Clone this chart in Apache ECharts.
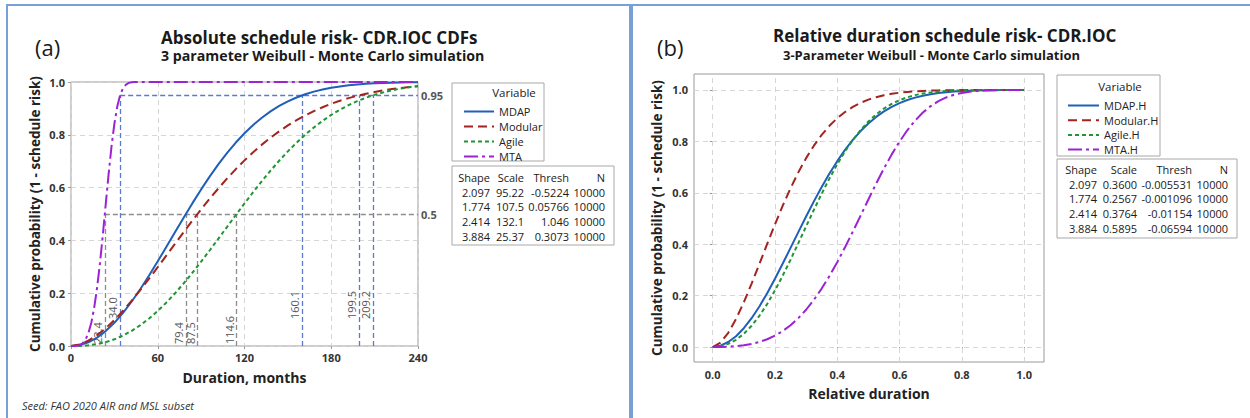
<!DOCTYPE html>
<html><head><meta charset="utf-8">
<script src="https://cdn.jsdelivr.net/npm/echarts@6/dist/echarts.min.js"></script>
<style>html,body{margin:0;padding:0;background:#fff}#c{width:1250px;height:418px}</style>
</head><body><div id="c"></div>
<script>
// ---------- DATA ----------
const months = [0,6,12,18,24,30,36,42,48,54,60,66,72,78,84,90,96,102,108,114,120,126,132,138,144,150,156,162,168,174,180,186,192,198,204,210,216,222,228,234,240];
const mdap = [0,0.0036,0.0141,0.0318,0.0565,0.0879,0.1254,0.1685,0.2159,0.2670,0.3207,0.3758,0.4316,0.4870,0.5411,0.5931,0.6426,0.6889,0.7317,0.7707,0.8059,0.8372,0.8647,0.8886,0.9092,0.9266,0.9413,0.9535,0.9635,0.9716,0.9782,0.9833,0.9874,0.9906,0.9931,0.9949,0.9963,0.9973,0.9981,0.9987,0.9991];
const modular = [0,0.0059,0.0201,0.0409,0.0672,0.0983,0.1334,0.1716,0.2123,0.2550,0.2987,0.3431,0.3876,0.4318,0.4753,0.5175,0.5584,0.5975,0.6348,0.6701,0.7031,0.7340,0.7627,0.7891,0.8133,0.8355,0.8555,0.8736,0.8900,0.9045,0.9175,0.9289,0.9390,0.9478,0.9556,0.9623,0.9682,0.9732,0.9775,0.9812,0.9840];
const agile = [0,0.0004,0.0025,0.0070,0.0145,0.0253,0.0396,0.0575,0.0790,0.1042,0.1329,0.1649,0.1999,0.2376,0.2777,0.3196,0.3627,0.4070,0.4515,0.4961,0.5400,0.5829,0.6244,0.6641,0.7019,0.7372,0.7701,0.8004,0.8279,0.8529,0.8752,0.8950,0.9123,0.9274,0.9404,0.9515,0.9608,0.9686,0.9751,0.9804,0.9850];
const mtaMonths = [0,2,4,6,8,10,12,14,16,18,20,22,24,26,28,30,32,34,36,38,40,42,44,46,48,240];
const mta = [0,0,0.0006,0.0030,0.0097,0.0236,0.0482,0.0871,0.1434,0.2186,0.3119,0.4197,0.5354,0.6501,0.7548,0.8415,0.9068,0.9507,0.9769,0.9905,0.9966,0.9990,0.9997,0.9999,1.0,1.0];

const relDur = [0,0.025,0.05,0.075,0.1,0.125,0.15,0.175,0.2,0.225,0.25,0.275,0.3,0.325,0.35,0.375,0.4,0.425,0.45,0.475,0.5,0.525,0.55,0.575,0.6,0.625,0.65,0.675,0.7,0.725,0.75,0.775,0.8,0.825,0.85,0.875,0.9,0.925,0.95,0.975,1.0];
const mdapH = [0.0002,0.0056,0.0197,0.0424,0.0735,0.1123,0.1581,0.2096,0.2656,0.3248,0.3858,0.4472,0.5078,0.5666,0.6225,0.6748,0.7230,0.7667,0.8057,0.8400,0.8697,0.8952,0.9166,0.9344,0.9490,0.9608,0.9702,0.9777,0.9834,0.9879,0.9912,0.9937,0.9955,0.9969,0.9978,0.9985,0.9990,0.9993,0.9996,0.9997,0.9998];
const modularH = [0.0001,0.0172,0.0555,0.1093,0.1743,0.2468,0.3233,0.4010,0.4773,0.5499,0.6177,0.6795,0.7348,0.7832,0.8250,0.8604,0.8900,0.9143,0.9340,0.9498,0.9622,0.9719,0.9793,0.9850,0.9892,0.9923,0.9946,0.9962,0.9974,0.9982,0.9988,0.9992,0.9994,0.9996,0.9997,0.9998,0.9999,0.9999,1.0,1.0,1.0];
const agileH = [0.0002,0.0036,0.0126,0.0283,0.0517,0.0828,0.1216,0.1678,0.2203,0.2781,0.3398,0.4041,0.4693,0.5338,0.5964,0.6558,0.7108,0.7607,0.8052,0.8441,0.8772,0.9050,0.9277,0.9460,0.9603,0.9714,0.9798,0.9860,0.9905,0.9936,0.9958,0.9973,0.9983,0.9990,0.9994,0.9996,0.9998,0.9999,0.9999,1.0,1.0];
const mtaH = [0.0002,0.0007,0.0018,0.0038,0.0072,0.0125,0.0200,0.0305,0.0444,0.0624,0.0849,0.1124,0.1452,0.1837,0.2275,0.2766,0.3300,0.3883,0.4489,0.5114,0.5741,0.6357,0.6945,0.7494,0.7992,0.8432,0.8808,0.9121,0.9370,0.9564,0.9708,0.9812,0.9884,0.9931,0.9961,0.9979,0.9989,0.9995,0.9998,0.9999,1.0];

const namesAbs = ['MDAP','Modular','Agile','MTA'];
const namesRel = ['MDAP.H','Modular.H','Agile.H','MTA.H'];
const pctLevels = [0.5, 0.95];
const medians = [23.4, 79.4, 87.5, 114.6];
const p95 = [34.0, 160.1, 199.5, 209.2];
const leftXTicks = [0,60,120,180,240];
const probTicks = [0,0.2,0.4,0.6,0.8,1.0];
const relTicks = [0,0.2,0.4,0.6,0.8,1.0];

const tableHead = ['Shape','Scale','Thresh','N'];
const shapes = ['2.097','1.774','2.414','3.884'];
const scalesAbs = ['95.22','107.5','132.1','25.37'];
const threshAbs = ['-0.5224','0.05766','1.046','0.3073'];
const scalesRel = ['0.3600','0.2567','0.3764','0.5895'];
const threshRel = ['-0.005531','-0.001096','-0.01154','-0.06594'];
const nVals = ['10000','10000','10000','10000'];

// ---------- STYLE ----------
const FONT = "'Open Sans','Noto Sans',sans-serif";
const colors = ['#1f5fb8','#a3231f','#1e9632','#9c22d4'];
const dashes = ['solid',[9,5],[4,3],[14,4,3,4]];
const GRAYREF = '#8c8c8c', BLUEREF = '#5a7bc9';
const GRID = '#d6d6d6';

const chart = echarts.init(document.getElementById('c'), null, {renderer:'svg', width:1250, height:418});

function mk(name, xs, ys, i, ax) {
  return {type:'line', name, xAxisIndex:ax, yAxisIndex:ax, data: xs.map((x,k)=>[x, ys[k]]),
    showSymbol:false, symbol:'none', clip:false, z:3, animation:false, silent:true,
    lineStyle:{color:colors[i], width:2, type:dashes[i]}, itemStyle:{color:colors[i]}};
}

const refLabel = {show:true, position:'insideStartTop', color:'#555', fontSize:11, fontFamily:FONT};
const refData = [];
medians.forEach(v => refData.push([
  {coord:[v,0], lineStyle:{color:GRAYREF}, label:Object.assign({}, refLabel, {formatter:v.toFixed(1), distance:[2,2]})},
  {coord:[v,pctLevels[0]]}]));
p95.forEach(v => refData.push([
  {coord:[v,0], lineStyle:{color:BLUEREF}, label:Object.assign({}, refLabel, {formatter:v.toFixed(1), distance:[27,2]})},
  {coord:[v,pctLevels[1]]}]));
refData.push([{coord:[Math.min(...medians),pctLevels[0]], lineStyle:{color:GRAYREF},
  label:{show:true, position:'end', formatter:String(pctLevels[0]), color:'#555', fontSize:11, fontWeight:'bold', distance:3}},
  {coord:[240,pctLevels[0]]}]);
refData.push([{coord:[Math.min(...p95),pctLevels[1]], lineStyle:{color:BLUEREF},
  label:{show:true, position:'end', formatter:String(pctLevels[1]), color:'#555', fontSize:11, fontWeight:'bold', distance:3}},
  {coord:[240,pctLevels[1]]}]);

const RX = [-0.06, 1.064], RY = [-0.058, 1.062];
const gridRight = [];
relTicks.forEach(v => gridRight.push([{coord:[v,RY[0]]},{coord:[v,RY[1]]}]));
relTicks.forEach(v => gridRight.push([{coord:[RX[0],v]},{coord:[RX[1],v]}]));

const axLabel = {fontSize:11, fontWeight:'bold', color:'#333', fontFamily:FONT};
const axName = {fontSize:14, fontWeight:'bold', color:'#222', fontFamily:FONT};

// graphic: borders, titles, legend boxes, tables
const g = [];
g.push({type:'rect', shape:{x:7,y:5,width:623,height:440}, style:{fill:'none', stroke:'#7a9fd6', lineWidth:2}, silent:true});
g.push({type:'rect', shape:{x:632,y:5,width:640,height:440}, style:{fill:'none', stroke:'#7a9fd6', lineWidth:2}, silent:true});
function txt(x,y,text,opt){ g.push({type:'text', x, y, silent:true, style:Object.assign({text, fontFamily:FONT, fill:'#1a1a1a', textVerticalAlign:'middle', textAlign:'left'}, opt||{})}); }
txt(35,47,'(a)',{fontSize:22});
txt(161,37,'Absolute schedule risk- CDR.IOC CDFs',{fontSize:17, fontWeight:'bold', lineHeight:18});
txt(161,55.5,'3 parameter Weibull - Monte Carlo simulation',{fontSize:14.2, fontWeight:'bold', lineHeight:15});
txt(657,47,'(b)',{fontSize:22});
txt(773,35,'Relative duration schedule risk- CDR.IOC',{fontSize:17, fontWeight:'bold', lineHeight:18});
txt(783,55,'3-Parameter Weibull - Monte Carlo simulation',{fontSize:13, fontWeight:'bold', lineHeight:14});
txt(22,405,'Seed: FAO 2020 AIR and MSL subset',{fontSize:11, fontStyle:'italic', fill:'#333'});

function box(x,y,w,h){ g.push({type:'rect', shape:{x,y,width:w,height:h}, style:{fill:'#fff', stroke:'#a8a8a8', lineWidth:1}, silent:true, z:-1}); }
box(452,83,92,78); txt(514,92,'Variable',{fontSize:11.5, textAlign:'center'});
box(1057,75,103,81); txt(1120,86,'Variable',{fontSize:11.5, textAlign:'center'});
function table(x,y,w,h,rights,yHead,gap,cols){
  box(x,y,w,h);
  cols.forEach((col,ci)=>{
    txt(rights[ci], yHead, tableHead[ci], {fontSize:11, textAlign:'right'});
    col.forEach((v,ri)=> txt(rights[ci], yHead+15+ri*gap, v, {fontSize:11, textAlign:'right'}));
  });
}
table(452,166,162,79,[490,524,569,605],177,14.7,[shapes,scalesAbs,threshAbs,nVals]);
table(1057,159,180,79,[1097,1137,1192,1228],169,14.7,[shapes,scalesRel,threshRel,nVals]);

const legendCommon = {orient:'vertical', itemHeight:13, selectedMode:false,
  itemStyle:{opacity:0, color:'transparent', borderWidth:0},
  textStyle:{fontSize:11, color:'#222', fontFamily:FONT, lineHeight:13}};

const option = {
  backgroundColor:'#fff',
  animation:false,
  textStyle:{fontFamily:FONT},
  grid:[
    {left:71, top:82, width:347, height:264, show:true, borderColor:'#9a9a9a', borderWidth:1, backgroundColor:'transparent'},
    {left:694, top:74, width:350, height:288, show:true, borderColor:'#9a9a9a', borderWidth:1, backgroundColor:'transparent'}
  ],
  xAxis:[
    {type:'value', gridIndex:0, min:leftXTicks[0], max:leftXTicks[leftXTicks.length-1], interval:60,
     axisLine:{show:false}, axisTick:{show:true, length:3, lineStyle:{color:'#9a9a9a'}},
     axisLabel:Object.assign({margin:6}, axLabel),
     splitLine:{show:true, lineStyle:{color:GRID, type:[5,4]}},
     name:'Duration, months', nameLocation:'middle', nameGap:24, nameTextStyle:axName},
    {type:'value', gridIndex:1, min:RX[0], max:RX[1],
     axisLine:{show:false}, axisTick:{show:true, length:3, customValues:relTicks, lineStyle:{color:'#9a9a9a'}},
     axisLabel:Object.assign({margin:7, customValues:relTicks, formatter:v=>v.toFixed(1)}, axLabel),
     splitLine:{show:false},
     name:'Relative duration', nameLocation:'middle', nameGap:24, nameTextStyle:axName}
  ],
  yAxis:[
    {type:'value', gridIndex:0, min:probTicks[0], max:probTicks[probTicks.length-1], interval:0.2,
     axisLine:{show:false}, axisTick:{show:true, length:3, lineStyle:{color:'#9a9a9a'}},
     axisLabel:Object.assign({margin:6, formatter:v=>v.toFixed(1)}, axLabel),
     splitLine:{show:true, lineStyle:{color:GRID, type:[5,4]}},
     name:'Cumulative probability (1 - schedule risk)', nameLocation:'middle', nameGap:29, nameTextStyle:Object.assign({}, axName, {fontSize:13.5})},
    {type:'value', gridIndex:1, min:RY[0], max:RY[1],
     axisLine:{show:false}, axisTick:{show:true, length:3, customValues:relTicks, lineStyle:{color:'#9a9a9a'}},
     axisLabel:Object.assign({margin:6, customValues:relTicks, formatter:v=>v.toFixed(1)}, axLabel),
     splitLine:{show:false},
     name:'Cumulative probability (1 - schedule risk)', nameLocation:'middle', nameGap:30, nameTextStyle:Object.assign({}, axName, {fontSize:13.5})}
  ],
  legend:[
    Object.assign({data:namesAbs, left:458, top:100, itemWidth:30, itemGap:2}, legendCommon),
    Object.assign({data:namesRel, left:1062, top:94, itemWidth:31, itemGap:1.7}, legendCommon)
  ],
  graphic:g,
  series:[
    {type:'line', name:'refLines', xAxisIndex:0, yAxisIndex:0, data:[], silent:true, z:1,
     markLine:{silent:true, symbol:'none', animation:false, z:1, lineStyle:{type:[5,3], width:1.3}, emphasis:{disabled:true}, data:refData}},
    {type:'line', name:'gridRight', xAxisIndex:1, yAxisIndex:1, data:[], silent:true, z:1,
     markLine:{silent:true, symbol:'none', animation:false, z:1, label:{show:false}, lineStyle:{color:GRID, type:[5,4], width:1}, emphasis:{disabled:true}, data:gridRight}},
    mk(namesAbs[0], months, mdap, 0, 0),
    mk(namesAbs[1], months, modular, 1, 0),
    mk(namesAbs[2], months, agile, 2, 0),
    mk(namesAbs[3], mtaMonths, mta, 3, 0),
    mk(namesRel[0], relDur, mdapH, 0, 1),
    mk(namesRel[1], relDur, modularH, 1, 1),
    mk(namesRel[2], relDur, agileH, 2, 1),
    mk(namesRel[3], relDur, mtaH, 3, 1)
  ]
};
chart.setOption(option);
</script></body></html>
